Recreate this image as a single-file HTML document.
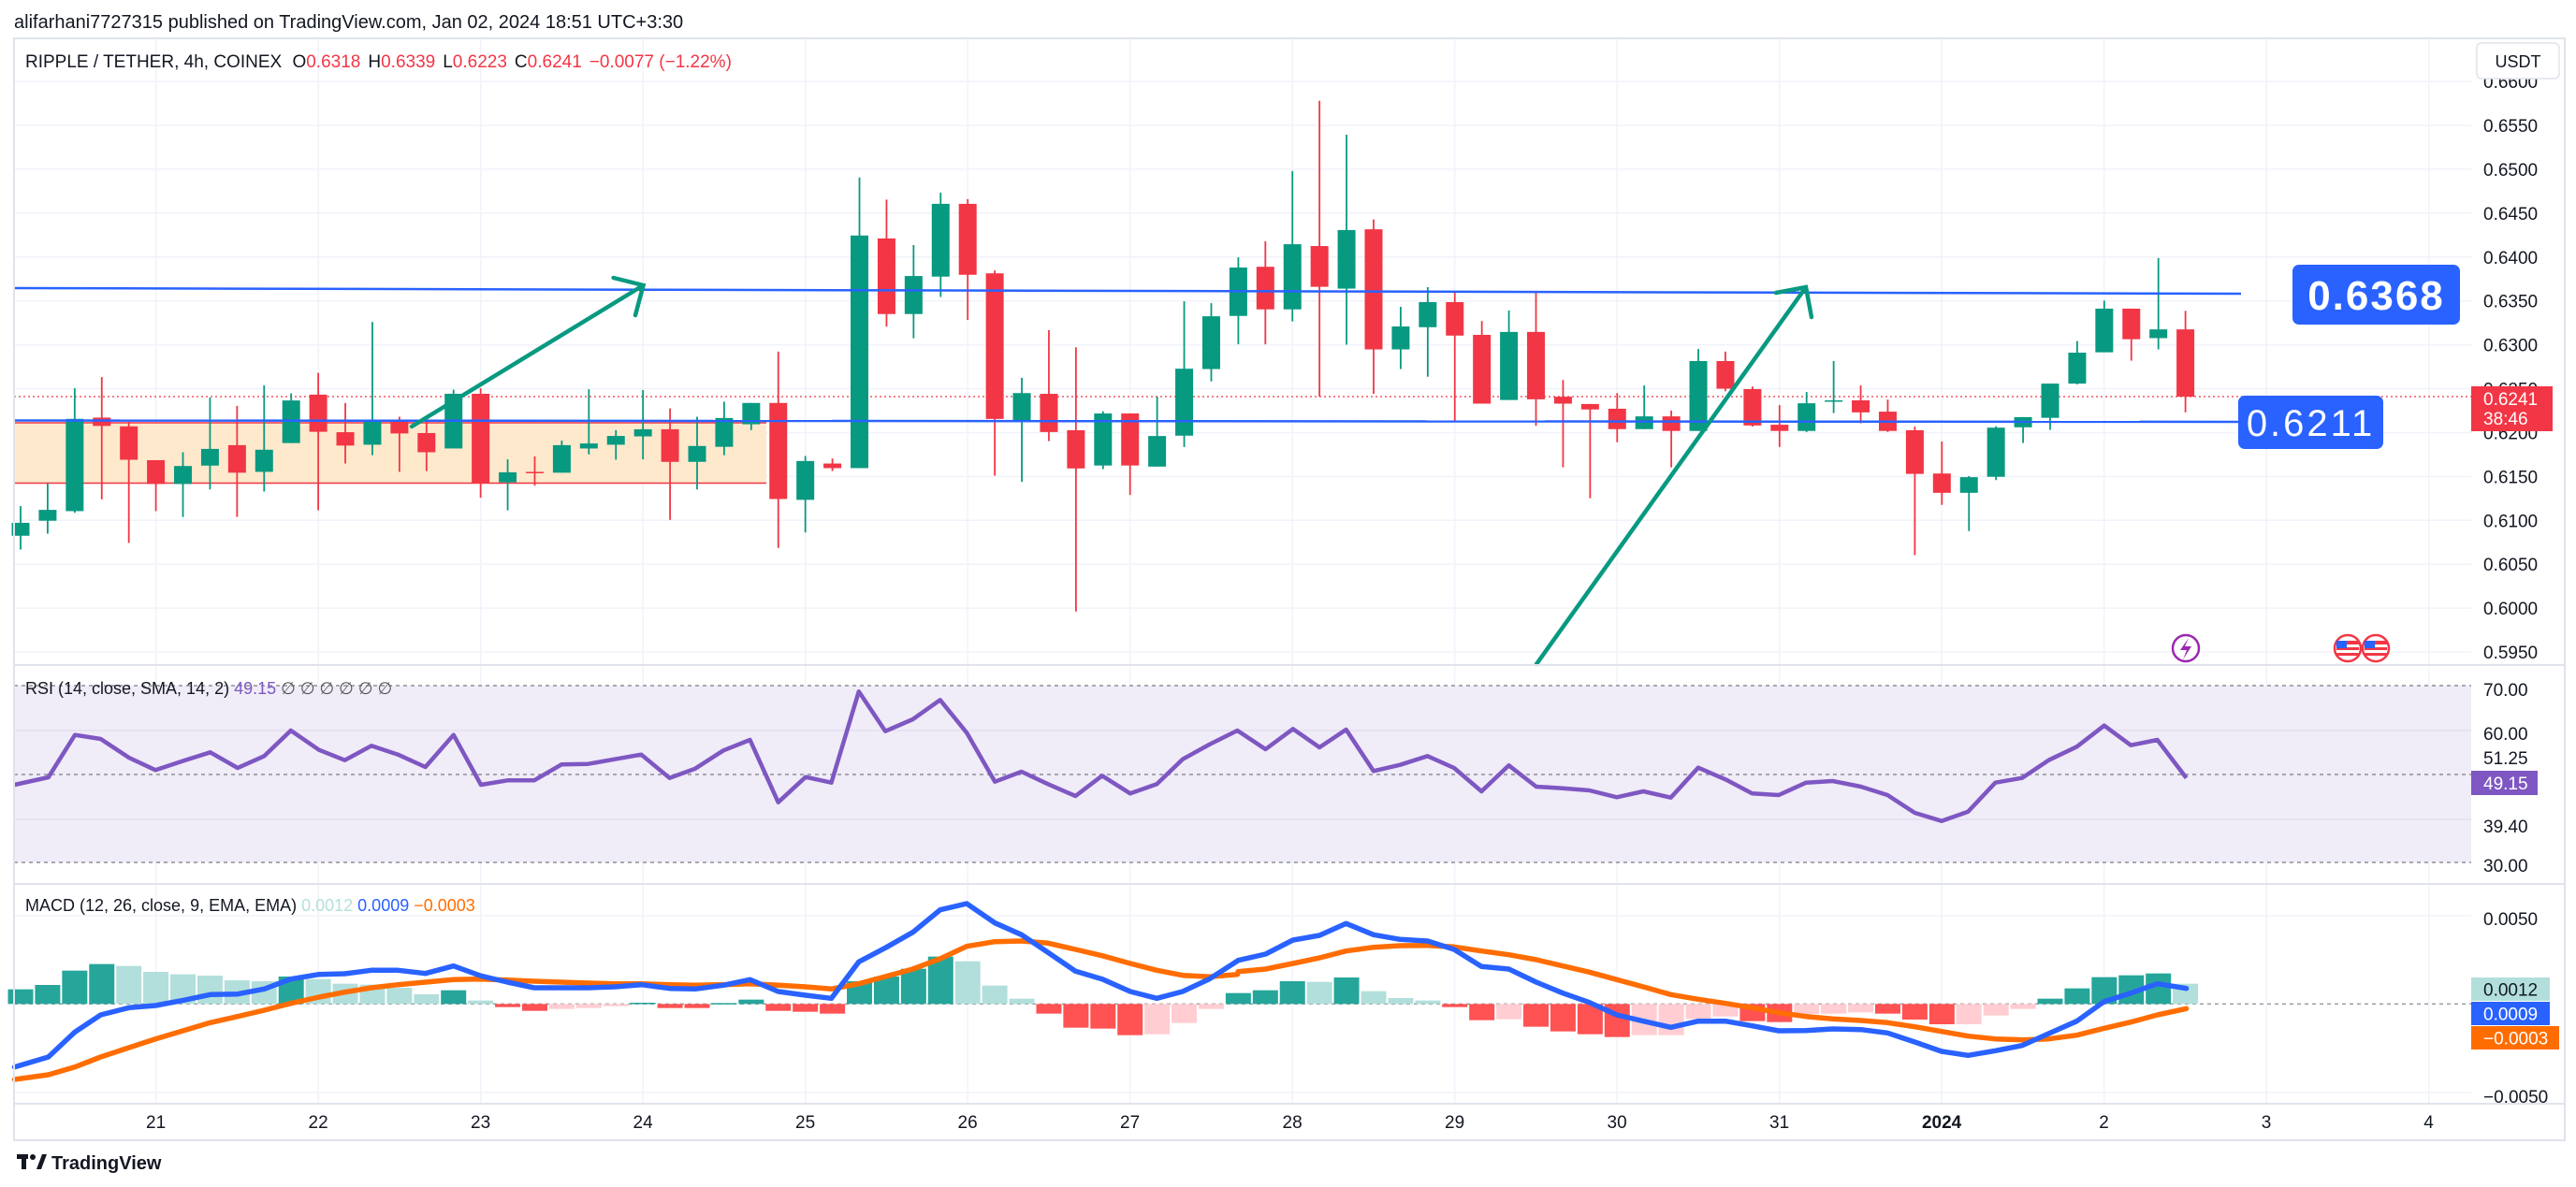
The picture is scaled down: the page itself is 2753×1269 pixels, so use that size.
<!DOCTYPE html>
<html><head><meta charset="utf-8">
<style>
html,body{margin:0;padding:0;background:#fff;}
svg{display:block;}
text{font-family:"Liberation Sans",Arial,sans-serif;}
</style></head>
<body>
<svg id="s" xmlns="http://www.w3.org/2000/svg" width="2753" height="1269" viewBox="0 0 2753 1269">
<rect width="2753" height="1269" fill="#fff"/>
<g id="grid"></g>
<!-- orange zone -->
<rect x="15" y="452" width="804" height="64.5" fill="#fee9cc"/>
<line x1="15" y1="452" x2="819" y2="452" stroke="#f23645" stroke-width="1.5"/>
<line x1="15" y1="516.5" x2="819" y2="516.5" stroke="#f23645" stroke-width="1.5"/>
<!-- current price dotted -->
<line x1="15" y1="424" x2="2641" y2="424" stroke="#f23645" stroke-width="1.3" stroke-dasharray="2,3"/>
<!-- RSI band -->
<rect x="15" y="733" width="2626" height="189" fill="#f0ecf8"/>
<g id="rsigrid"></g>
<g id="candles"></g>
<!-- blue lines -->
<line x1="15" y1="308" x2="2395" y2="314" stroke="#2962ff" stroke-width="2.5"/>
<line x1="15" y1="449.5" x2="2392" y2="451" stroke="#2962ff" stroke-width="2.5"/>
<!-- arrows -->
<g stroke="#089981" stroke-width="4.5" fill="none" stroke-linecap="round">
<path d="M440 456 L687.5 305 M655.6 297 L687.5 305 L679 337"/>
<path d="M1642 710 L1930 307 M1898 313 L1930 307 L1936 339"/>
</g>
<!-- label boxes -->
<rect x="2450" y="283" width="179" height="64" rx="7" fill="#2962ff"/>
<text x="2539.5" y="331" font-size="44" font-weight="bold" fill="#fff" text-anchor="middle" letter-spacing="2">0.6368</text>
<rect x="2392" y="423" width="155" height="57" rx="7" fill="#2962ff"/>
<text x="2469.5" y="466" font-size="40" fill="#fff" text-anchor="middle" letter-spacing="3">0.6211</text>
<g id="ind"></g>
<!-- frame -->
<g stroke="#e0e3eb" stroke-width="2" fill="none">
<rect x="15" y="41" width="2726" height="1178"/>
<line x1="15" y1="711" x2="2741" y2="711"/>
<line x1="15" y1="945" x2="2741" y2="945"/>
<line x1="15" y1="1180" x2="2741" y2="1180"/>
</g>
<g id="axis" font-size="19" fill="#131722"></g>
<!-- header -->
<text x="15" y="30" font-size="20" fill="#131722">alifarhani7727315 published on TradingView.com, Jan 02, 2024 18:51 UTC+3:30</text>
<text x="27" y="72" font-size="19" fill="#131722">RIPPLE / TETHER, 4h, COINEX <tspan dx="6">O</tspan><tspan fill="#f23645">0.6318</tspan><tspan dx="8">H</tspan><tspan fill="#f23645">0.6339</tspan><tspan dx="8">L</tspan><tspan fill="#f23645">0.6223</tspan><tspan dx="8">C</tspan><tspan fill="#f23645">0.6241</tspan><tspan dx="8" fill="#f23645">−0.0077 (−1.22%)</tspan></text>
<text x="27" y="742" font-size="18" fill="#131722">RSI (14, close, SMA, 14, 2) <tspan fill="#7e57c2">49.15</tspan><tspan fill="#555"> ∅ ∅ ∅ ∅ ∅ ∅</tspan></text>
<text x="27" y="974" font-size="18" fill="#131722">MACD (12, 26, close, 9, EMA, EMA) <tspan fill="#b2dfdb">0.0012</tspan> <tspan fill="#2962ff">0.0009</tspan> <tspan fill="#ff6d00">−0.0003</tspan></text>
<!-- USDT -->
<rect x="2647" y="46" width="88" height="38" rx="5" fill="#fff" stroke="#e0e3eb" stroke-width="1.5"/>
<text x="2691" y="72" font-size="18" fill="#131722" text-anchor="middle">USDT</text>
<!-- icons -->
<circle cx="2336" cy="693" r="14" fill="#fff" stroke="#9c27b0" stroke-width="2.5"/>
<path d="M2339 682 L2330 695 L2337 695 L2333 705 L2342 691 L2335 691 Z" fill="#9c27b0"/>
<g>
<circle cx="2509" cy="693" r="14" fill="#fff" stroke="#f23645" stroke-width="2.5"/>
<rect x="2497" y="685" width="24" height="16" fill="#f23645"/><rect x="2497" y="689" width="24" height="3" fill="#fff"/><rect x="2497" y="695" width="24" height="3" fill="#fff"/><rect x="2497" y="685" width="11" height="8" fill="#2962ff"/>
<circle cx="2539" cy="693" r="14" fill="#fff" stroke="#f23645" stroke-width="2.5"/>
<rect x="2527" y="685" width="24" height="16" fill="#f23645"/><rect x="2527" y="689" width="24" height="3" fill="#fff"/><rect x="2527" y="695" width="24" height="3" fill="#fff"/><rect x="2527" y="685" width="11" height="8" fill="#2962ff"/>
</g>
<!-- footer -->
<g fill="#131722"><rect x="18" y="1234" width="12" height="5"/><rect x="23" y="1234" width="5" height="16"/><circle cx="35" cy="1237" r="3"/><path d="M39 1250 L45 1234 L50 1234 L44 1250 Z"/></g>
<text x="55" y="1250" font-size="20" font-weight="bold" fill="#131722">TradingView</text>
</svg>
<script>
(function(){
var NS="http://www.w3.org/2000/svg";
function el(p,t,a){var e=document.createElementNS(NS,t);for(var k in a)e.setAttribute(k,a[k]);p.appendChild(e);return e;}
var grid=document.getElementById('grid'),cg=document.getElementById('candles'),ind=document.getElementById('ind'),ax=document.getElementById('axis'),rg=document.getElementById('rsigrid');
// horizontal grid main
for(var k=-1;k<=12;k++){var y=134+k*46.92;el(grid,'line',{x1:15,y1:y,x2:2641,y2:y,stroke:'#f0f3fa','stroke-width':1.5});}
// vertical grid
var days=['21','22','23','24','25','26','27','28','29','30','31','2024','2','3','4'];
for(var d=0;d<days.length;d++){var x=166.6+173.5*d;el(grid,'line',{x1:x,y1:41,x2:x,y2:1180,stroke:'#f0f3fa','stroke-width':1.5});
 var t=el(ax,'text',{x:x,y:1206,'text-anchor':'middle'});t.textContent=days[d];if(days[d]=='2024')t.setAttribute('font-weight','bold');}
// rsi grid
el(rg,'line',{x1:15,y1:781,x2:2641,y2:781,stroke:'#e3dff0','stroke-width':1.5});
el(rg,'line',{x1:15,y1:876,x2:2641,y2:876,stroke:'#e3dff0','stroke-width':1.5});
[733,828,922].forEach(function(y){el(rg,'line',{x1:15,y1:y,x2:2641,y2:y,stroke:'#787b86','stroke-width':1.3,'stroke-dasharray':'4,4'});});
// macd grid
el(grid,'line',{x1:15,y1:979,x2:2641,y2:979,stroke:'#f0f3fa','stroke-width':1.5});
el(grid,'line',{x1:15,y1:1168,x2:2641,y2:1168,stroke:'#f0f3fa','stroke-width':1.5});
// price axis labels
var pl=['0.6600','0.6550','0.6500','0.6450','0.6400','0.6350','0.6300','0.6250','0.6200','0.6150','0.6100','0.6050','0.6000','0.5950'];
for(var i=0;i<pl.length;i++){var y=134+(i-1)*46.92;var t=el(ax,'text',{x:2654,y:y+7});t.textContent=pl[i];}
[['70.00',737],['60.00',784],['51.25',810],['39.40',883],['30.00',925],['0.0050',982],['−0.0050',1172]].forEach(function(a){var t=el(ax,'text',{x:2654,y:a[1]+7});t.textContent=a[0];});
function box(x,y,w,h,fill,txt,col,txt2){el(ax,'rect',{x:x,y:y,width:w,height:h,fill:fill});var t=el(ax,'text',{x:x+13,y:txt2?y+20:y+h/2+7,fill:col});t.textContent=txt;if(txt2){var t2=el(ax,'text',{x:x+13,y:y+41,fill:col});t2.textContent=txt2;}}
box(2641,413,87,48,'#f23645','0.6241','#fff','38:46');
box(2641,824,71,26,'#7e57c2','49.15','#fff');
box(2641,1045,84,25,'#b2dfdb','0.0012','#131722');
box(2641,1071,84,25,'#2962ff','0.0009','#fff');
box(2641,1097,94,25,'#ff6d00','−0.0003','#fff');

var G='#089981',R='#f23645';
function X(i){return 22+28.92*i;}
var z1=[[G,1252,1283,1212,1316],[G,1221,1247,1158,1278],[G,1003,1224,930,1228],[R,1000,1020,903,1196],[R,1021,1101,1010,1300],[R,1102,1159,1102,1224],[G,1116,1159,1083,1238],[G,1075,1115,952,1172],[R,1066,1132,972,1238],[G,1077,1130,923,1177],[G,959,1061,942,1061],[R,945,1034,893,1222],[R,1035,1067,965,1110],[G,1008,1065,771,1090],[R,1006,1038,998,1130],[R,1037,1083,1000,1128],[G,943,1074,933,1074],[R,943,1156,930,1192],[G,1131,1155,1100,1222],[R,1130,1133,1093,1163],[G,1066,1132,1055,1132],[G,1062,1074,932,1088],[G,1044,1065,1030,1101],[G,1028,1045,934,1100],[R,1028,1106,978,1245],[G,1068,1106,998,1172],[G,1001,1070,962,1090],[G,965,1016,965,1030],[R,965,1195,842,1312],[G,1104,1197,1092,1275],[R,1110,1121,1098,1128],[G,564,1121,425,1121],[R,571,752,478,782],[G,661,752,587,810]];
var z3=[[G,303,503,272,559],[R,303,498,290,622],[R,494,894,486,1050],[G,823,897,781,1067],[R,825,930,650,955],[R,925,1030,697,1423],[G,879,1022,873,1032],[R,879,1022,879,1103],[G,941,1025,833,1025],[G,756,940,571,971],[G,612,757,576,791],[G,478,611,450,689],[R,476,593,406,689],[G,414,593,213,626],[R,419,531,20,833],[G,375,536,113,690],[R,373,703,346,825],[G,640,703,586,757],[G,573,642,532,778],[R,573,665,545,900],[R,663,852,625,852],[G,655,842,596,842],[R,655,840,545,913]];
var z4=[[R,833,852,787,1027],[R,853,868,853,1112],[R,866,922,823,958],[G,887,922,802,922],[R,887,927,871,1027],[G,735,927,702,927],[R,735,811,709,818],[R,812,912,805,915],[R,910,927,856,971],[G,851,927,820,930],[G,843,846,735,878],[R,843,876,802,906],[R,874,927,841,930],[R,925,1045,915,1268],[R,1044,1097,956,1130],[G,1054,1097,1051,1202],[G,918,1053,914,1062],[G,889,917,889,960],[G,797,891,797,924],[G,712,797,680,799],[G,591,711,569,711],[R,591,675,591,734],[G,648,672,452,703],[R,648,833,597,876]];
var cs=[];
z1.forEach(function(c){cs.push([c[0],c[1]/2.24,c[2]/2.24,c[3]/2.24,c[4]/2.24]);});
z3.forEach(function(c){cs.push([c[0],100+c[1]/2.57,100+c[2]/2.57,100+c[3]/2.57,100+c[4]/2.57]);});
z4.forEach(function(c){cs.push([c[0],100+c[1]/2.57,100+c[2]/2.57,100+c[3]/2.57,100+c[4]/2.57]);});
cs.forEach(function(c,i){var x=X(i);el(cg,'line',{x1:x,y1:c[3],x2:x,y2:c[4],stroke:c[0],'stroke-width':1.8});
 el(cg,'rect',{x:x-9.5,y:c[1],width:19,height:Math.max(1.5,c[2]-c[1]),fill:c[0]});});

// RSI
var r5=[[18,372],[60,348],[93,212],[125,225],[160,285],[193,325],[228,295],[261,268],[295,318],[328,280],[361,198],[396,260],[428,293],[461,247],[494,275],[528,315],[563,212],[597,372],[630,358],[663,358],[697,307],[730,305],[763,290],[796,275],[831,350],[863,320],[898,262],[931,228],[966,428],[1000,347],[1032,365],[1066,73],[1099,200],[1133,162],[1167,100],[1200,205],[1235,362],[1268,330],[1301,370],[1335,408],[1368,343],[1403,400],[1436,370],[1468,290],[1501,243],[1536,198]];
var r6=[[61,258],[95,193],[128,252],[161,195],[195,328],[228,308],[262,280],[295,318],[329,393],[363,310],[397,378],[430,383],[463,390],[497,412],[530,393],[564,413],[598,317],[632,355],[665,400],[698,405],[732,365],[765,360],[800,378],[833,405],[867,462],[900,488],[933,458],[967,365],[1000,350],[1033,293],[1068,250],[1102,182],[1135,245],[1168,228],[1204,350]];
var pts=[];r5.forEach(function(p){pts.push((p[0]/1.1615).toFixed(1)+','+(715+p[1]/3).toFixed(1));});
r6.forEach(function(p){pts.push((1300+p[0]/1.1615).toFixed(1)+','+(715+p[1]/3).toFixed(1));});
el(ind,'polyline',{points:pts.join(' '),fill:'none',stroke:'#7e57c2','stroke-width':4.5,'stroke-linejoin':'round'});

// MACD histogram
var H=[['T',323],['T',309],['T',263],['T',242],['t',248],['t',267],['t',275],['t',279],['t',294],['t',297],['T',282],['t',290],['t',305],['t',308],['t',318],['t',339],['T',326],['t',359],['R',380],['R',392],['r',386],['r',383],['r',377],['T',366],['R',383],['R',383],['T',367],['T',356],['R',392],['R',395],['R',401],['T',297],['T',282],['T',257],['T',218],['t',233],['t',311],['t',353],['R',401],['R',446],['R',449],['R',470],['r',467],['r',431],['r',386],['T',335],['T',326],['T',297],['t',299],['T',285],['t',329],['t',351],['t',359],['R',380],['R',422],['r',419],['R',443],['R',458],['R',467],['R',476],['r',470],['r',470],['r',418],['r',410],['R',425],['R',428],['r',402],['r',401],['r',397],['R',401],['R',420],['R',435],['r',435],['r',407],['r',386],['T',353],['T',320],['T',284],['T',278],['T',272],['t',305]];
var col={T:'#26a69a',t:'#b2dfdb',R:'#ff5252',r:'#ffcdd2'};
var zero=950+370/3;
el(ind,'line',{x1:15,y1:zero,x2:2641,y2:zero,stroke:'#9598a1','stroke-width':1.3,'stroke-dasharray':'4,4'});
H.forEach(function(h,i){var y=950+h[1]/3;var x=X(i);el(ind,'rect',{x:x-13.5,y:Math.min(y,zero),width:27,height:Math.max(1.5,Math.abs(y-zero)),fill:col[h[0]]});});
function line(a,b,c){var p=[];a.forEach(function(q){p.push((q[0]/1.1615).toFixed(1)+','+(950+q[1]/3).toFixed(1));});b.forEach(function(q){p.push((1300+q[0]/1.1615).toFixed(1)+','+(950+q[1]/3).toFixed(1));});
 el(ind,'polyline',{points:p.join(' '),fill:'none',stroke:c,'stroke-width':5.5,'stroke-linejoin':'round','stroke-linecap':'round'});}
var b7=[[18,572],[60,540],[93,460],[125,405],[160,382],[193,375],[228,358],[261,340],[295,338],[328,322],[361,290],[396,275],[428,273],[461,262],[494,262],[528,272],[563,248],[597,280],[630,300],[663,318],[697,318],[730,318],[763,315],[796,308],[831,320],[863,322],[898,310],[931,292],[966,330],[1000,342],[1032,352],[1066,235],[1099,190],[1133,140],[1167,68],[1200,48],[1235,110],[1268,148],[1301,205],[1335,265],[1368,290],[1403,330],[1436,352],[1468,330],[1501,290],[1536,232]];
var b8=[[27,230],[61,210],[95,165],[128,150],[161,112],[195,148],[228,163],[262,168],[295,195],[329,250],[363,258],[397,300],[430,335],[463,365],[497,405],[530,425],[564,445],[598,425],[632,425],[665,440],[698,456],[732,455],[765,450],[800,452],[833,463],[867,492],[900,522],[933,535],[967,520],[1000,503],[1033,465],[1068,425],[1102,362],[1135,335],[1168,305],[1204,320]];
var o7=[[18,612],[60,597],[93,572],[125,540],[160,510],[193,482],[228,455],[261,430],[295,410],[328,390],[361,368],[396,348],[428,332],[461,318],[494,308],[528,300],[563,292],[597,290],[630,293],[663,297],[697,300],[730,303],[763,305],[796,305],[831,308],[863,310],[898,308],[931,305],[966,310],[1000,315],[1032,322],[1066,305],[1099,282],[1133,258],[1167,225],[1200,185],[1235,170],[1268,168],[1301,175],[1335,195],[1368,215],[1403,240],[1436,262],[1468,278],[1501,283],[1536,275]];
var o8=[[27,266],[61,258],[95,240],[128,222],[161,200],[195,188],[228,183],[262,182],[295,187],[329,200],[363,212],[397,228],[430,248],[463,268],[497,292],[530,315],[564,340],[598,355],[632,368],[665,382],[698,398],[732,410],[765,418],[800,423],[833,430],[867,443],[900,458],[933,473],[967,482],[1000,485],[1033,482],[1068,470],[1102,448],[1135,428],[1168,405],[1204,385]];
line(o7,o8,'#ff6d00');
line(b7,b8,'#2962ff');
})();
</script>
</body></html>
